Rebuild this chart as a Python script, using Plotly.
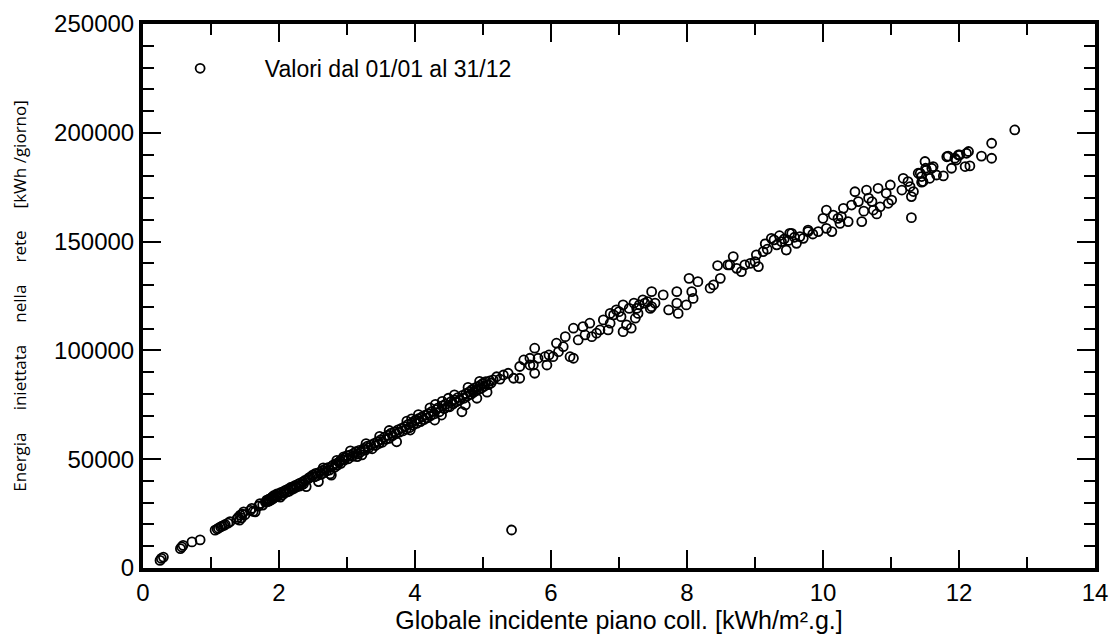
import plotly.graph_objects as go

# --- data (global irradiation kWh/m2.day vs energy kWh/day) ---
x_low = [0.25, 0.27, 0.30, 0.55, 0.57, 0.59, 0.72, 0.84, 1.06, 1.09, 1.11, 1.14, 1.16, 1.19, 1.21,
         1.25, 1.28, 1.38, 1.40, 1.42, 1.43, 1.45, 1.46, 1.48, 1.50, 1.58, 1.60, 1.62, 1.65, 1.70,
         1.72, 1.76, 1.80, 1.82, 1.83, 1.85, 1.86, 1.88, 1.89, 1.90, 1.91, 1.92, 1.93, 1.95, 1.96,
         1.97, 1.98, 2.00, 2.02, 2.03, 2.05, 2.07, 2.08, 2.10, 2.12, 2.14, 2.15, 2.17, 2.19, 2.20,
         2.22, 2.24, 2.26, 2.28, 2.30, 2.31, 2.33, 2.35, 2.36, 2.38, 2.40, 2.42, 2.44, 2.46, 2.48]
y_low = [3500, 4400, 5000, 8900, 9700, 10400, 12000, 12900, 17400, 17900, 18300, 18900, 19200, 19600, 20000,
         20600, 21300, 22500, 23300, 22000, 24300, 23000, 24800, 25800, 24500, 26500, 27400, 26000, 25800, 28500,
         29600, 28900, 30200, 31200, 30500, 31600, 30800, 32000, 31400, 32600, 31900, 33200, 32300, 33500, 32800,
         34100, 33000, 34000, 32600, 34800, 33600, 35200, 34400, 35800, 35000, 36400, 35300, 37000, 36100, 37300,
         36600, 38000, 37200, 38500, 37600, 39000, 38200, 39600, 38600, 40200, 37400, 40800, 41400, 41700, 42200]

x_mid = [2.50, 2.52, 2.54, 2.56, 2.58, 2.60, 2.62, 2.64, 2.66, 2.68, 2.70, 2.72, 2.74, 2.75, 2.77,
         2.78, 2.80, 2.82, 2.84, 2.86, 2.88, 2.90, 2.91, 2.93, 2.95, 2.96, 2.98, 3.00, 3.02, 3.05,
         3.08, 3.10, 3.13, 3.15, 3.18, 3.20, 3.22, 3.25, 3.27, 3.30, 3.32, 3.35, 3.37, 3.40, 3.42,
         3.45, 3.47, 3.50, 3.52, 3.55, 3.57, 3.60, 3.62, 3.65, 3.67, 3.70, 3.72, 3.73, 3.75, 3.77,
         3.80, 3.82, 3.85, 3.87, 3.90, 3.92, 3.93, 3.95, 3.97, 4.00, 4.02, 4.03, 4.05, 4.08, 4.10,
         4.13, 4.15, 4.18, 4.20, 4.23, 4.25, 4.28, 4.29, 4.31, 4.34, 4.36, 4.39, 4.40, 4.43, 4.45,
         4.48, 4.49, 4.51, 4.53, 4.56, 4.58, 4.61, 4.63, 4.66, 4.69, 4.70, 4.72, 4.74, 4.75, 4.77,
         4.80, 4.82, 4.84, 4.86, 4.88, 4.90, 4.91, 4.92, 4.94, 4.96, 4.98, 5.00, 5.02, 5.04, 5.06,
         5.08, 5.10, 5.12]
y_mid = [42800, 41900, 43500, 42400, 39700, 44100, 43000, 44900, 43800, 45400, 44600, 46100, 45000, 43200, 42700,
         46800, 47400, 46300, 48000, 47200, 48600, 49300, 48100, 50000, 51100, 49600, 50700, 51600, 50200, 52000,
         51300, 52700, 53500, 52400, 54100, 53300, 52000, 55000, 54200, 56000, 55200, 56500, 54800, 57300, 56300,
         58100, 57200, 59000, 57800, 60100, 59100, 61000, 59600, 62000, 60800, 62600, 61700, 58000, 63500, 62400,
         64200, 63000, 65000, 63800, 66000, 64500, 63400, 66700, 65600, 67800, 68000, 66500, 68600, 67300, 69400,
         68200, 70200, 69000, 71000, 70000, 72000, 70800, 68000, 72800, 73600, 71800, 70300, 74500, 73200, 75300,
         74100, 78000, 74100, 76500, 75400, 77300, 76400, 78300, 77200, 71800, 79300, 78000, 74900, 80200, 79100,
         81000, 79800, 82000, 80700, 82800, 81500, 78000, 83300, 82200, 84000, 82700, 84900, 83500, 85600, 80800,
         84300, 86000, 85000]

x_mid_spread = [2.65, 2.85, 3.05, 3.15, 3.28, 3.48, 3.62, 3.88, 3.95, 4.05, 4.22, 4.30, 4.40, 4.58, 4.78, 4.95]
y_mid_spread = [46000, 49500, 53800, 51200, 57200, 60500, 63200, 67500, 68500, 70500, 73600, 75200, 76600, 79600, 83000, 85800]

x_upper = [5.15, 5.20, 5.25, 5.30, 5.37, 5.42, 5.45, 5.54, 5.54, 5.60, 5.69, 5.69, 5.74, 5.76, 5.76,
           5.81, 5.91, 5.94, 5.97, 6.03, 6.08, 6.11, 6.18, 6.21, 6.28, 6.33, 6.33, 6.40, 6.47, 6.50,
           6.57, 6.60, 6.67, 6.72, 6.77, 6.84, 6.87, 6.87, 6.92, 6.96, 7.00, 7.03, 7.06, 7.06, 7.11,
           7.15, 7.18, 7.22, 7.24, 7.26, 7.28, 7.30, 7.35, 7.38, 7.42, 7.46, 7.48, 7.48, 7.53]
y_upper = [86500, 87900, 86800, 88700, 89500, 17460, 87200, 87200, 92600, 95600, 93300, 96400, 93300, 101000, 89500,
           96400, 97100, 93300, 97900, 97100, 103300, 99400, 101700, 106300, 97100, 96400, 110200, 104800, 110900, 107100,
           112500, 106300, 107900, 109400, 114000, 109400, 117000, 112500, 116300, 118600, 117800, 115500, 120900, 108600, 111700,
           119300, 110200, 121700, 114800, 119300, 117000, 120900, 123200, 121700, 122400, 119300, 127000, 120100, 121700]

x_summer = [7.65, 7.73, 7.85, 7.85, 7.87, 7.99, 8.03, 8.07, 8.09, 8.16, 8.34, 8.39, 8.45, 8.49, 8.60,
            8.63, 8.68, 8.73, 8.80, 8.85, 8.93, 9.00, 9.02, 9.05, 9.12, 9.15, 9.18, 9.24, 9.28, 9.32,
            9.36, 9.39, 9.43, 9.46, 9.49, 9.51, 9.54, 9.58, 9.61, 9.66, 9.71, 9.78, 9.78, 9.85, 9.93]
y_summer = [125500, 118600, 127000, 121700, 117000, 120900, 133100, 127000, 123900, 131600, 128600, 130100, 139000, 133100, 139300,
            139300, 143100, 137700, 136200, 139300, 140000, 140800, 143900, 138500, 145400, 149000, 146500, 151500, 150800, 148500,
            152700, 150000, 151200, 146100, 150500, 153800, 153800, 152000, 149200, 152300, 151500, 155300, 154600, 153500, 154600]

x_peak = [10.00, 10.05, 10.05, 10.13, 10.15, 10.22, 10.25, 10.27, 10.30, 10.37, 10.42, 10.47, 10.52, 10.57, 10.60,
          10.64, 10.67, 10.72, 10.74, 10.79, 10.81, 10.84, 10.93, 10.96, 10.99, 11.01, 11.16, 11.18, 11.25, 11.28,
          11.30, 11.30, 11.33, 11.40, 11.43, 11.45, 11.45, 11.47, 11.50, 11.51, 11.52, 11.57, 11.60, 11.62, 11.67,
          11.77, 11.82, 11.84, 11.89, 11.94, 11.96, 11.99, 12.01, 12.09, 12.11, 12.14, 12.16, 12.33, 12.48, 12.48,
          12.82]
y_peak = [160700, 156100, 164500, 154600, 162200, 160700, 158400, 161500, 165300, 159200, 166800, 172900, 168400, 159200, 164000,
          173700, 170000, 168400, 164500, 162700, 174500, 166000, 172200, 167600, 176000, 169100, 173700, 179100, 177600, 175300,
          170700, 161000, 173000, 181400, 181400, 179900, 177300, 177600, 186800, 183700, 182900, 179100, 183700, 184500, 180600,
          180200, 189000, 189300, 183700, 188300, 187500, 189800, 189800, 184500, 190600, 191400, 184800, 189300, 195200, 188300,
          201300]

x_vals = x_low + x_mid + x_mid_spread + x_upper + x_summer + x_peak
y_vals = y_low + y_mid + y_mid_spread + y_upper + y_summer + y_peak

legend_label = "\u00a0" * 7 + "Valori dal 01/01 al 31/12"
x_title = "Globale incidente piano coll. [kWh/m².g.]"
nb = "\u00a0" * 5
y_title = f"Energia{nb}iniettata{nb}nella{nb}rete{nb}[kWh /giorno]"

fig = go.Figure()
fig.add_trace(go.Scatter(
    x=x_vals, y=y_vals, mode="markers", name=legend_label,
    marker=dict(symbol="circle-open", size=9, color="black", line=dict(width=1.8)),
))

axis_common = dict(
    showgrid=False, zeroline=False, showline=True, linewidth=4, linecolor="black",
    mirror="ticks", ticks="inside", ticklen=18, tickwidth=2, tickcolor="black",
    tickfont=dict(family="Liberation Sans, Arial", size=24, color="black"),
)

fig.update_xaxes(
    range=[0, 14], dtick=2, tick0=0,
    minor=dict(ticks="inside", ticklen=11, tickwidth=2, tickcolor="black", dtick=1),
    title=dict(text=x_title, font=dict(family="Liberation Sans, Arial", size=25, color="black"), standoff=8),
    **axis_common,
)
fig.update_yaxes(
    range=[0, 250000], dtick=50000, tick0=0, tickformat="d",
    minor=dict(ticks="inside", ticklen=11, tickwidth=2, tickcolor="black", dtick=10000),
    title=dict(text=y_title, font=dict(family="Open Sans", size=17, color="black"), standoff=24),
    **axis_common,
)

fig.update_layout(
    width=1110, height=639,
    margin=dict(l=143, r=15, t=24, b=71, autoexpand=False),
    plot_bgcolor="white", paper_bgcolor="white",
    showlegend=True,
    legend=dict(x=0.039, y=0.958, xanchor="left", yanchor="top", bgcolor="rgba(0,0,0,0)",
                font=dict(family="Liberation Sans, Arial", size=23, color="black")),
)

# remove the default 8px page margin so the figure fills the 1110x639 window exactly
fig.write_html("out.html", config={"displayModeBar": False},
               post_script="document.body.style.margin='0';")
